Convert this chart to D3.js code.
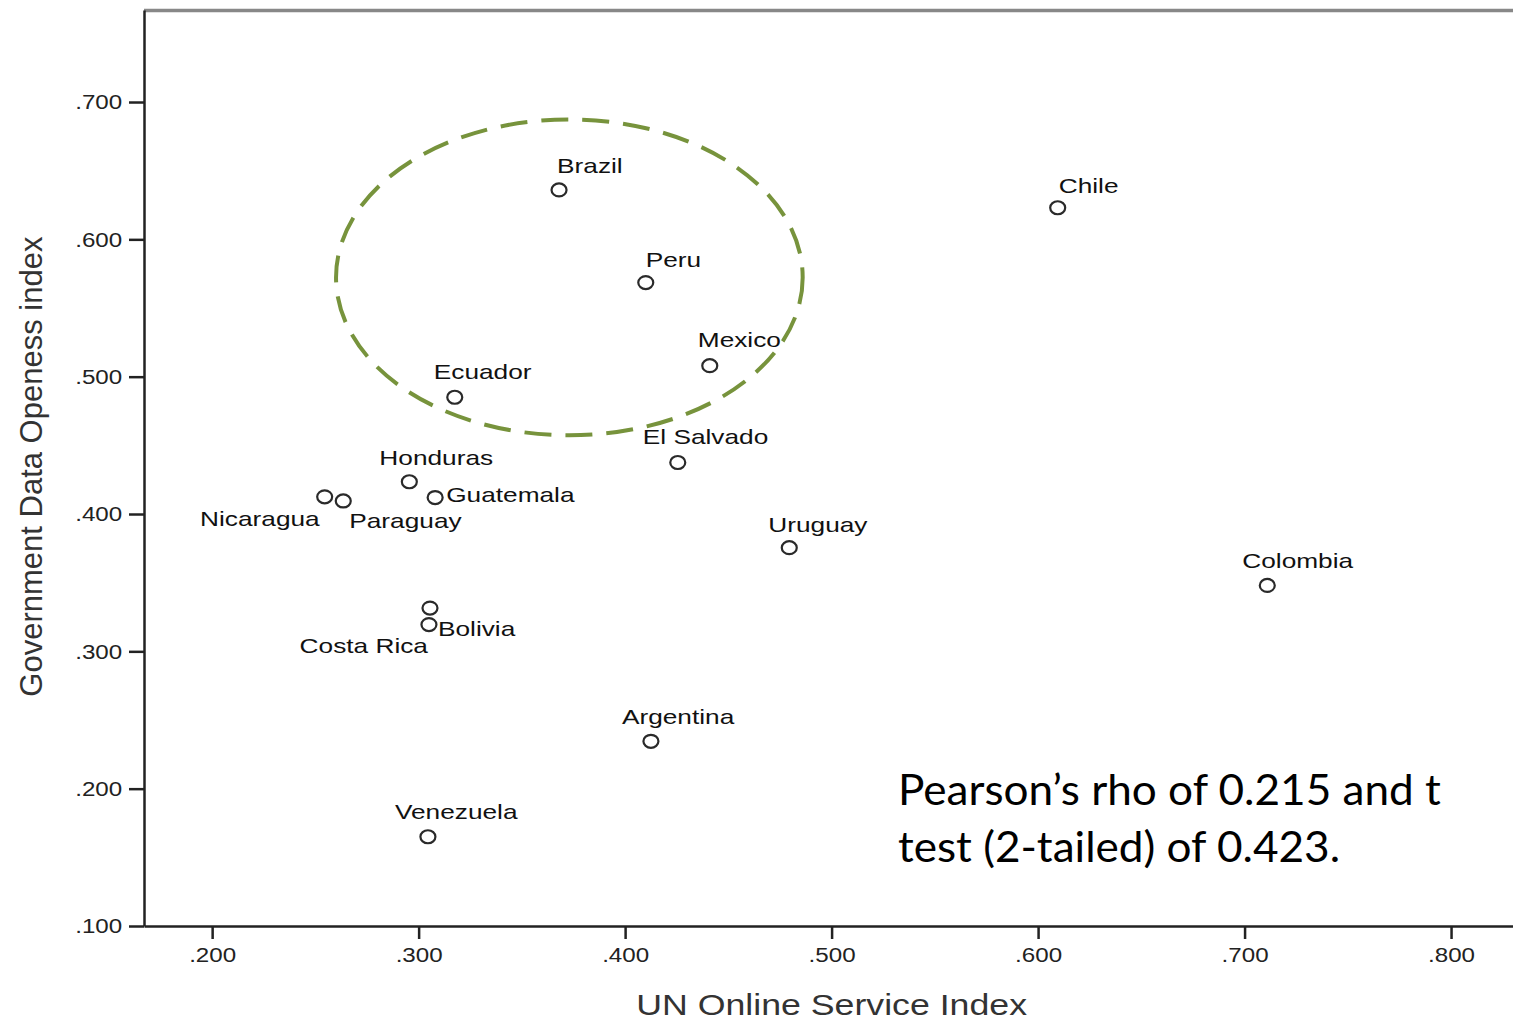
<!DOCTYPE HTML>
<html>
<head>
<meta charset="utf-8">
<style>
	body { margin: 0; background: #fff; }
	.axis path, .axis line { stroke: #222; stroke-width: 2.5px; }
	.axis text { font-family: "Liberation Sans", Arial, sans-serif; font-size: 21px; fill: #222; }
	.pt { fill: none; stroke: #2a2a2a; stroke-width: 2.2px; }
	.lbl { font-family: "Liberation Sans", Arial, sans-serif; font-size: 21px; fill: #111; }
	.title { font-family: "Liberation Sans", Arial, sans-serif; font-size: 30px; fill: #333; }
	.note { font-family: Lato, "Open Sans", sans-serif; font-size: 42px; fill: #000; }
</style>
<script src="https://cdn.jsdelivr.net/npm/d3@7/dist/d3.min.js"></script>
</head>
<body>
<script>
// country values
var countries = ["Brazil", "Peru", "Mexico", "Ecuador", "El Salvado", "Chile", "Honduras", "Guatemala",
	"Nicaragua", "Paraguay", "Bolivia", "Costa Rica", "Uruguay", "Colombia", "Argentina", "Venezuela"];
var onlineService = [0.368, 0.410, 0.441, 0.3175, 0.4255, 0.6095, 0.2955, 0.308,
	0.2545, 0.2635, 0.3055, 0.305, 0.4795, 0.711, 0.4125, 0.3045];
var dataOpenness = [0.636, 0.5685, 0.508, 0.485, 0.4375, 0.623, 0.4235, 0.412,
	0.4125, 0.4095, 0.3315, 0.3195, 0.3755, 0.348, 0.2345, 0.165];

// label placement next to each point (pixels, anchor)
var labelOffsets = [[-2, -17, "start"], [0, -16, "start"], [-12, -19, "start"], [-21, -18, "start"],
	[-35, -19, "start"], [1, -15, "start"], [-30, -17, "start"], [11, 4, "start"],
	[-5, 29, "end"], [6, 27, "start"], [8, 28, "start"], [-1, 28, "end"],
	[-21, -16, "start"], [-25, -17, "start"], [-29, -17, "start"], [-33, -18, "start"]];

var xTicks = [0.2, 0.3, 0.4, 0.5, 0.6, 0.7, 0.8];
var yTicks = [0.1, 0.2, 0.3, 0.4, 0.5, 0.6, 0.7];
var xTitle = "UN Online Service Index";
var yTitle = "Government Data Openess index";
var noteLines = ["Pearson\u2019s rho of 0.215 and t", "test (2-tailed) of 0.423."];
// highlighted group: centre and radii in data units
var groupCentre = [0.373, 0.5723];
var groupRadius = [0.113, 0.115];

var W = 1513, H = 1020;
var x = d3.scaleLinear().domain([0.167, 0.83]).range([144, 1513]);
var y = d3.scaleLinear().domain([0.1, 0.767]).range([926, 10]);
var fmt = function(d) { return d3.format(".3f")(d).replace(/^0/, ""); };

var svg = d3.select("body").append("svg")
	.attr("width", W)
	.attr("height", H);

// top frame line
svg.append("line")
	.attr("x1", x.range()[0]).attr("x2", x.range()[1])
	.attr("y1", y.range()[1] + 0.5).attr("y2", y.range()[1] + 0.5)
	.attr("stroke", "#888").attr("stroke-width", 3.5);

var gx = svg.append("g")
	.attr("class", "axis")
	.attr("transform", "translate(0," + y.range()[0] + ")")
	.call(d3.axisBottom(x).tickValues(xTicks).tickFormat(fmt).tickSize(13).tickSizeOuter(0).tickPadding(8));
gx.selectAll("text").attr("dy", "0.72em").attr("transform", "scale(1.15,1)");

var gy = svg.append("g")
	.attr("class", "axis")
	.attr("transform", "translate(" + x.range()[0] + ",0)")
	.call(d3.axisLeft(y).tickValues(yTicks).tickFormat(fmt).tickSize(15).tickSizeOuter(0).tickPadding(4));
gy.selectAll("text").attr("transform", "scale(1.15,1)");

// axis titles
svg.append("text")
	.attr("class", "title")
	.attr("text-anchor", "middle")
	.attr("transform", "translate(" + x(0.5) + ",1015) scale(1.19,1)")
	.text(xTitle);
svg.append("text")
	.attr("class", "title")
	.attr("text-anchor", "middle")
	.style("font-size", "31px")
	.attr("transform", "translate(42," + y(0.4345) + ") rotate(-90)")
	.text(yTitle);

// dashed group ellipse
svg.append("ellipse")
	.attr("cx", x(groupCentre[0]))
	.attr("cy", y(groupCentre[1]))
	.attr("rx", x(groupCentre[0] + groupRadius[0]) - x(groupCentre[0]))
	.attr("ry", y(groupCentre[1]) - y(groupCentre[1] + groupRadius[1]))
	.attr("fill", "none")
	.attr("stroke", "#77933C")
	.attr("stroke-width", 4)
	.attr("stroke-dasharray", "27,14");

var pts = countries.map(function(c, i) {
	return {name: c, xv: onlineService[i], yv: dataOpenness[i], off: labelOffsets[i]};
});

svg.selectAll(".pt")
	.data(pts)
	.enter().append("ellipse")
	.attr("class", "pt")
	.attr("cx", function(d) { return x(d.xv); })
	.attr("cy", function(d) { return y(d.yv); })
	.attr("rx", 7.5)
	.attr("ry", 6.5);

svg.selectAll(".lbl")
	.data(pts)
	.enter().append("text")
	.attr("class", "lbl")
	.attr("text-anchor", function(d) { return d.off[2]; })
	.attr("transform", function(d) {
		return "translate(" + (x(d.xv) + d.off[0]) + "," + (y(d.yv) + d.off[1]) + ") scale(1.25,1)";
	})
	.text(function(d) { return d.name; });

// correlation note
svg.selectAll(".note")
	.data(noteLines)
	.enter().append("text")
	.attr("class", "note")
	.attr("transform", function(d, i) { return "translate(898," + (805 + i * 57) + ") scale(1.05,1)"; })
	.text(function(d) { return d; });
</script>
</body>
</html>
